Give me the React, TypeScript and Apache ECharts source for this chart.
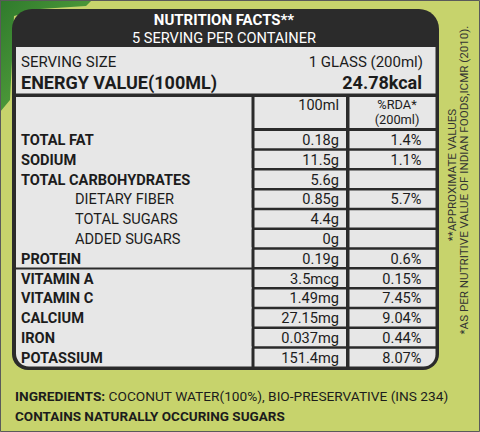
import React, { useEffect, useRef } from "react";
import * as echarts from "echarts";

// ---- data ----
const titleLines = ["NUTRITION FACTS**", "5 SERVING PER CONTAINER"];
const servingSize = ["SERVING SIZE", "1 GLASS (200ml)"];
const energyValue = ["ENERGY VALUE(100ML)", "24.78kcal"];
const columnHeaders = ["100ml", "%RDA*", "(200ml)"];
const macroNutrients = ["TOTAL FAT", "SODIUM", "TOTAL CARBOHYDRATES", "DIETARY FIBER", "TOTAL SUGARS", "ADDED SUGARS", "PROTEIN"];
const microNutrients = ["VITAMIN A", "VITAMIN C", "CALCIUM", "IRON", "POTASSIUM"];
const subNutrients = ["DIETARY FIBER", "TOTAL SUGARS", "ADDED SUGARS"];
const per100ml = ["0.18g", "11.5g", "5.6g", "0.85g", "4.4g", "0g", "0.19g", "3.5mcg", "1.49mg", "27.15mg", "0.037mg", "151.4mg"];
const rdaPercent = ["1.4%", "1.1%", "", "5.7%", "", "", "0.6%", "0.15%", "7.45%", "9.04%", "0.44%", "8.07%"];
const ingredientsLabel = "INGREDIENTS:";
const ingredientsText = "COCONUT WATER(100%), BIO-PRESERVATIVE (INS 234)";
const sugarNote = "CONTAINS NATURALLY OCCURING SUGARS";
const footnotes = ["**APPROXIMATE VALUES", "*AS PER NUTRITIVE VALUE OF INDIAN FOODS,ICMR (2010)."];

const allNutrients = [...macroNutrients, ...microNutrients];

// ---- styles / layout ----
const FONT = "Roboto, 'Noto Sans', sans-serif";
const LIME = "#c7d36c";
const DARK = "#2b2b2b";
const LIGHT = "#e7e7e7";
const INK = "#1c1c1c";
const ROW_FONT = 14.6;

const COL1_L = 16, COL1_R = 251.5, COL2_L = 254.5, COL2_R = 346, COL3_L = 349.5, COL3_R = 435.5;
const HEADER_TOP = 97, HEADER_BOTTOM = 128;

export default function App() {
  const ref = useRef<HTMLDivElement>(null);
  useEffect(() => {
    if (!ref.current) return;
    const chart = echarts.init(ref.current, null, { renderer: "svg" });
    const lastMacro = macroNutrients.length - 1;
    const lastRow = allNutrients.length - 1;

    const renderItem = (params: any, api: any) => {
      const i = params.dataIndex;
      const top = api.coord([0, i])[1];
      const bottom = api.coord([0, i + 1])[1];
      const mid = (top + bottom) / 2;
      const name = allNutrients[i];
      const isSub = subNutrients.includes(name);
      const firstInSection = i === 0 || i === lastMacro + 1;
      const lastInSection = i === lastMacro || i === lastRow;
      const y1 = i === 0 ? HEADER_TOP : firstInSection ? top + 1.5 : top - 1;
      const y2 = lastInSection ? bottom - 0.5 : bottom + 1;
      const cellTop = top + 1.5;
      const cellBottom = i === lastRow ? bottom - 0.5 : bottom - 1;
      const children: any[] = [
        {
          type: "rect",
          shape: { x: COL1_L, y: y1, width: COL1_R - COL1_L, height: y2 - y1, r: i === lastRow ? [0, 0, 0, 13] : 0 },
          style: { fill: LIGHT },
        },
        {
          type: "rect",
          shape: { x: COL2_L, y: cellTop, width: COL2_R - COL2_L, height: cellBottom - cellTop },
          style: { fill: LIGHT },
        },
        {
          type: "rect",
          shape: { x: COL3_L, y: cellTop, width: COL3_R - COL3_L, height: cellBottom - cellTop, r: i === lastRow ? [0, 0, 12, 0] : 0 },
          style: { fill: LIGHT },
        },
        {
          type: "text",
          x: isSub ? 75 : 21,
          y: mid + 0.5,
          style: {
            text: name,
            fill: INK,
            font: (isSub ? "normal " : "bold ") + ROW_FONT + "px " + FONT,
            align: "left",
            verticalAlign: "middle",
          },
        },
        {
          type: "text",
          x: 339,
          y: mid + 0.5,
          style: { text: per100ml[i], fill: INK, font: "normal " + ROW_FONT + "px " + FONT, align: "right", verticalAlign: "middle" },
        },
        {
          type: "text",
          x: 421.5,
          y: mid + 0.5,
          style: { text: rdaPercent[i], fill: INK, font: "normal " + ROW_FONT + "px " + FONT, align: "right", verticalAlign: "middle" },
        },
      ];
      return { type: "group", children };
    };

    const leafShape = [
      [0, 0], [92, 0], [86, 6], [40, 9], [14, 16], [12, 60], [10, 100], [0, 112],
    ];

    chart.setOption({
      animation: false,
      backgroundColor: LIME,
      grid: { left: COL1_L, right: 480 - COL3_R, top: 129.5, bottom: 432 - 367.1 },
      xAxis: { type: "value", min: 0, max: 1, show: false },
      yAxis: { type: "value", inverse: true, min: 0, max: allNutrients.length, show: false },
      graphic: [
        {
          type: "polygon",
          z: 0,
          shape: { points: leafShape },
          style: {
            fill: {
              type: "linear", x: 0, y: 0, x2: 1, y2: 1,
              colorStops: [
                { offset: 0, color: "#2f7a2c" },
                { offset: 0.5, color: "#4a9638" },
                { offset: 1, color: "#2c6f2a" },
              ],
            },
          },
        },
        {
          type: "rect",
          z: 1,
          shape: { x: 12, y: 9, width: 427, height: 361, r: [20, 20, 16, 16] },
          style: { fill: DARK },
        },
        {
          type: "rect",
          z: 1,
          shape: { x: COL1_L, y: 47, width: COL3_R - COL1_L, height: 46.5 },
          style: { fill: LIGHT },
        },
        {
          type: "rect",
          z: 1,
          shape: { x: COL2_L, y: HEADER_TOP, width: COL2_R - COL2_L, height: HEADER_BOTTOM - HEADER_TOP },
          style: { fill: LIGHT },
        },
        {
          type: "rect",
          z: 1,
          shape: { x: COL3_L, y: HEADER_TOP, width: COL3_R - COL3_L, height: HEADER_BOTTOM - HEADER_TOP },
          style: { fill: LIGHT },
        },
        {
          type: "text", z: 3, x: 224, y: 20,
          style: { text: titleLines[0], fill: "#ffffff", font: "bold 15px " + FONT, align: "center", verticalAlign: "middle" },
        },
        {
          type: "text", z: 3, x: 224, y: 37.5,
          style: { text: titleLines[1], fill: "#ffffff", font: "normal 14.6px " + FONT, align: "center", verticalAlign: "middle" },
        },
        {
          type: "text", z: 3, x: 21, y: 62,
          style: { text: servingSize[0], fill: INK, font: "normal 15px " + FONT, align: "left", verticalAlign: "middle" },
        },
        {
          type: "text", z: 3, x: 423, y: 62,
          style: { text: servingSize[1], fill: INK, font: "normal 15px " + FONT, align: "right", verticalAlign: "middle" },
        },
        {
          type: "text", z: 3, x: 21, y: 82,
          style: { text: energyValue[0], fill: INK, font: "bold 18px " + FONT, align: "left", verticalAlign: "middle" },
        },
        {
          type: "text", z: 3, x: 422, y: 82,
          style: { text: energyValue[1], fill: INK, font: "bold 18px " + FONT, align: "right", verticalAlign: "middle" },
        },
        {
          type: "text", z: 3, x: 339, y: 105,
          style: { text: columnHeaders[0], fill: INK, font: "normal 14.5px " + FONT, align: "right", verticalAlign: "middle" },
        },
        {
          type: "text", z: 3, x: 397, y: 104,
          style: { text: columnHeaders[1], fill: INK, font: "normal 12.8px " + FONT, align: "center", verticalAlign: "middle" },
        },
        {
          type: "text", z: 3, x: 397, y: 119,
          style: { text: columnHeaders[2], fill: INK, font: "normal 12.8px " + FONT, align: "center", verticalAlign: "middle" },
        },
        {
          type: "text", z: 3, x: 15, y: 396,
          style: {
            text: "{b|" + ingredientsLabel + "} " + ingredientsText,
            fill: INK,
            font: "normal 13.7px " + FONT,
            align: "left",
            verticalAlign: "middle",
            rich: { b: { fontWeight: "bold", fontSize: 13.7, fontFamily: FONT, fill: INK } },
          },
        },
        {
          type: "text", z: 3, x: 15, y: 416,
          style: { text: sugarNote, fill: INK, font: "bold 13.5px " + FONT, align: "left", verticalAlign: "middle" },
        },
        {
          type: "text", z: 3, x: 452, y: 175, rotation: Math.PI / 2,
          style: { text: footnotes[0], fill: "#333333", font: "normal 11.6px " + FONT, align: "center", verticalAlign: "middle" },
        },
        {
          type: "text", z: 3, x: 464, y: 180, rotation: Math.PI / 2,
          style: { text: footnotes[1], fill: "#333333", font: "normal 11.6px " + FONT, align: "center", verticalAlign: "middle" },
        },
        {
          type: "rect",
          z: 4,
          shape: { x: 0.5, y: 0.5, width: 479, height: 431 },
          style: { fill: "none", stroke: "#5a5a5a", lineWidth: 1 },
        },
      ],
      series: [
        {
          type: "custom",
          z: 2,
          clip: false,
          silent: true,
          renderItem,
          data: allNutrients.map((_, i) => [0, i]),
        },
      ],
    });
    return () => chart.dispose();
  }, []);
  return <div ref={ref} style={{ position: "absolute", left: 0, top: 0, width: 480, height: 432 }} />;
}
